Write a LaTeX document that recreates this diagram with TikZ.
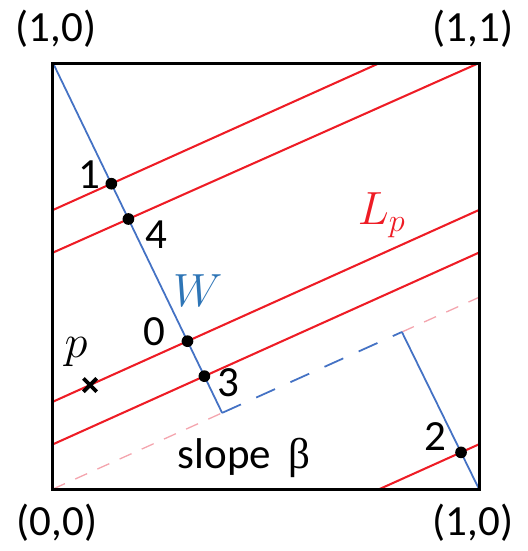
\documentclass[tikz,border=0pt]{standalone}
\usepackage{fontspec}
\setmainfont{Carlito}
\newfontfamily\greekfont{Liberation Serif}
\usepackage{xcolor,tikz}
\usetikzlibrary{positioning,calc,shapes.misc}
\definecolor{orbRedLine}{HTML}{EE1C25}
\definecolor{orbPinkLine}{HTML}{F4A5AE}
\definecolor{orbBlueLine}{HTML}{4472C4}
\definecolor{orbBlueText}{HTML}{2E75B6}
\tikzset{
  torus frame/.style={draw=black, line width=1.6pt},
  orbit line/.style={color=orbRedLine, line width=1.1pt},
  window line/.style={color=orbBlueLine, line width=0.95pt},
  window dash/.style={window line, dash pattern=on 11pt off 9pt},
  slope line/.style={color=orbPinkLine, line width=0.7pt, dash pattern=on 7pt off 6pt},
  hit dot/.style={circle, fill=black, minimum size=0.22cm, inner sep=0pt},
  corner label/.style={font=\fontsize{23}{28}\selectfont, inner sep=0pt},
  step label/.style={font=\fontsize{23}{28}\selectfont, inner sep=0pt},
}

\begin{document}
\begin{tikzpicture}[x=8cm, y=8cm]

\useasboundingbox (-0.1244,-0.1455) rectangle (1.1127,1.1479);

% --- UNIT SQUARE ---
\coordinate (sw) at (0,0);
\coordinate (se) at (1,0);
\coordinate (ne) at (1,1);
\coordinate (nw) at (0,1);

% --- ORBIT OF L_p: slope 0.45, wrapped round the torus ---
\coordinate (l0s) at (0,0.205);    \coordinate (l0e) at (1,0.655);
\coordinate (l1s) at (0,0.655);    \coordinate (l1e) at (0.7667,1);
\coordinate (l2s) at (0.7667,0);   \coordinate (l2e) at (1,0.105);
\coordinate (l3s) at (0,0.105);    \coordinate (l3e) at (1,0.555);
\coordinate (l4s) at (0,0.555);    \coordinate (l4e) at (1,1);

% --- WINDOW W: corners sit on the line of slope beta ---
\coordinate (wlow) at (0.397,0.1787);
\coordinate (whigh) at (0.819,0.3686);
\coordinate (slopeEnd) at (1,0.45);

% slope beta line through the origin, hidden under the dashed part of W
\draw[slope line] (sw) -- (wlow);
\draw[slope line] (whigh) -- (slopeEnd);

\draw[orbit line] (l0s) -- (l0e);
\draw[orbit line] (l1s) -- (l1e);
\draw[orbit line] (l2s) -- (l2e);
\draw[orbit line] (l3s) -- (l3e);
\draw[orbit line] (l4s) -- (l4e);

\draw[window line] (nw) -- (wlow);
\draw[window dash] (wlow) -- (whigh);
\draw[window line] (whigh) -- (se);

\draw[torus frame] (sw) rectangle (ne);

% --- HITS OF L_p ON W ---
\node[hit dot] (d0) at (intersection of nw--wlow and l0s--l0e) {};
\node[hit dot] (d1) at (intersection of nw--wlow and l1s--l1e) {};
\node[hit dot] (d2) at (intersection of whigh--se and l2s--l2e) {};
\node[hit dot] (d3) at (intersection of nw--wlow and l3s--l3e) {};
\node[hit dot] (d4) at (intersection of nw--wlow and l4s--l4e) {};

% --- POINT p ---
\node[cross out, draw=black, line width=2pt, minimum size=0.18cm, inner sep=0pt]
  (pmark) at (0.087,0.244) {};
\node[inner sep=0pt, font=\fontsize{24}{28}\selectfont]
  (plabel) at (0.054,0.322) {$p$};

% --- LABELS ---
\node[step label] (n0) at (0.239,0.369) {0};
\node[step label] (n1) at (0.085,0.737) {1};
\node[step label] (n2) at (0.897,0.124) {2};
\node[step label] (n3) at (0.411,0.249) {3};
\node[step label] (n4) at (0.242,0.596) {4};

\node[inner sep=0pt, color=orbBlueText, font=\fontsize{25}{28}\selectfont]
  (wlabel) at (0.340,0.465) {$W$};
\node[inner sep=0pt, color=orbRedLine, font=\fontsize{25}{28}\selectfont]
  (lplabel) at (0.772,0.643) {$L_p$};
\node[step label] (slopelabel) at (0.448,0.073) {slope\, {\greekfont β}};

\node[corner label] (c10top) at (0.007,1.080) {(1,0)};
\node[corner label] (c11) at (0.986,1.080) {(1,1)};
\node[corner label] (c00) at (0.009,-0.080) {(0,0)};
\node[corner label] (c10bot) at (0.986,-0.080) {(1,0)};

\end{tikzpicture}
\end{document}
